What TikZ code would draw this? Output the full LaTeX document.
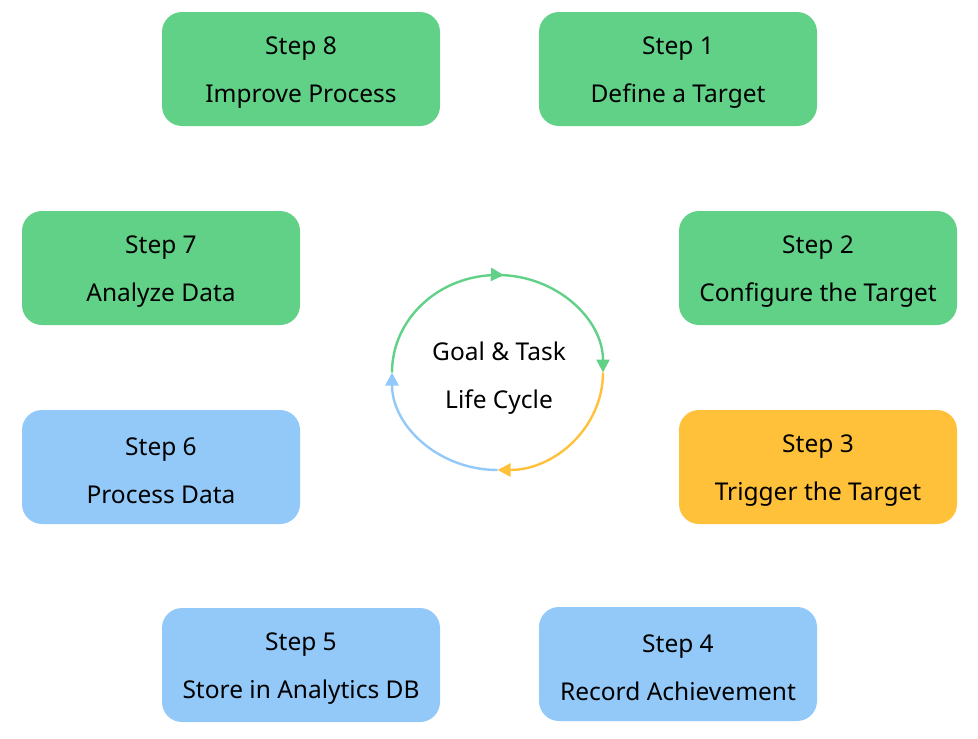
\documentclass[tikz,border=0pt]{standalone}
\usepackage{fontspec}
\setmainfont{Noto Sans}
\usepackage{tikz}
\usetikzlibrary{arrows.meta,decorations.markings}
\definecolor{c61d188}{RGB}{97,209,136}
\definecolor{cffc13a}{RGB}{255,193,58}
\definecolor{c93c9f8}{RGB}{147,201,248}

\tikzset{
  stepbox/.style={rounded corners=20pt, minimum width=278pt, minimum height=114pt},
  steptext/.style={align=center, font=\fontsize{24.5}{48}\selectfont},
  cyclearc/.style={line width=2.4pt, -{Triangle[length=13pt,width=13pt]}}
}

\begin{document}
\begin{tikzpicture}[y=1pt, x=1pt, yscale=-1, inner sep=0pt, outer sep=0pt]
  \useasboundingbox (0,0) rectangle (978,739);
  % boxes
  \path (301,69) node[stepbox,fill=c61d188] (step8) {};
  \path (678,69) node[stepbox,fill=c61d188] (step1) {};
  \path (161,268) node[stepbox,fill=c61d188] (step7) {};
  \path (818,268) node[stepbox,fill=c61d188] (step2) {};
  \path (161,467) node[stepbox,fill=c93c9f8] (step6) {};
  \path (818,467) node[stepbox,fill=cffc13a] (step3) {};
  \path (301,665) node[stepbox,fill=c93c9f8] (step5) {};
  \path (678,664) node[stepbox,fill=c93c9f8] (step4) {};
  % box texts
  \path (step8) ++(0,4) node[steptext] (text8) {Step 8\\Improve Process};
  \path (step1) ++(0,4) node[steptext] (text1) {Step 1\\Define a Target};
  \path (step7) ++(0,4) node[steptext] (text7) {Step 7\\Analyze Data};
  \path (step2) ++(0,4) node[steptext] (text2) {Step 2\\Configure the Target};
  \path (step6) ++(0,4) node[steptext] (text6) {Step 6\\Process Data};
  \path (step3) ++(0,4) node[steptext] (text3) {Step 3\\Trigger the Target};
  \path (step5) ++(0,4) node[steptext] (text5) {Step 5\\Store in Analytics DB};
  \path (step4) ++(0,4) node[steptext] (text4) {Step 4\\Record Achievement};
  % cycle
  \coordinate (cycle) at (497.5,372.5);
  \path (499,378) node[steptext] (cyclelabel) {Goal \& Task\\Life Cycle};
  \draw[cyclearc, draw=c61d188,
    postaction={decorate}, decoration={markings,
      mark=at position 0.52 with {\arrow{Triangle[length=13pt,width=13pt]}}}]
    (cycle) ++(-105.5,0) arc[start angle=180, end angle=360, x radius=105.5, y radius=97.5];
  \draw[cyclearc, draw=cffc13a]
    (cycle) ++(105.5,0) arc[start angle=0, end angle=90, x radius=105.5, y radius=97.5];
  \draw[cyclearc, draw=c93c9f8]
    (cycle) ++(0,97.5) arc[start angle=90, end angle=180, x radius=105.5, y radius=97.5];
\end{tikzpicture}
\end{document}
